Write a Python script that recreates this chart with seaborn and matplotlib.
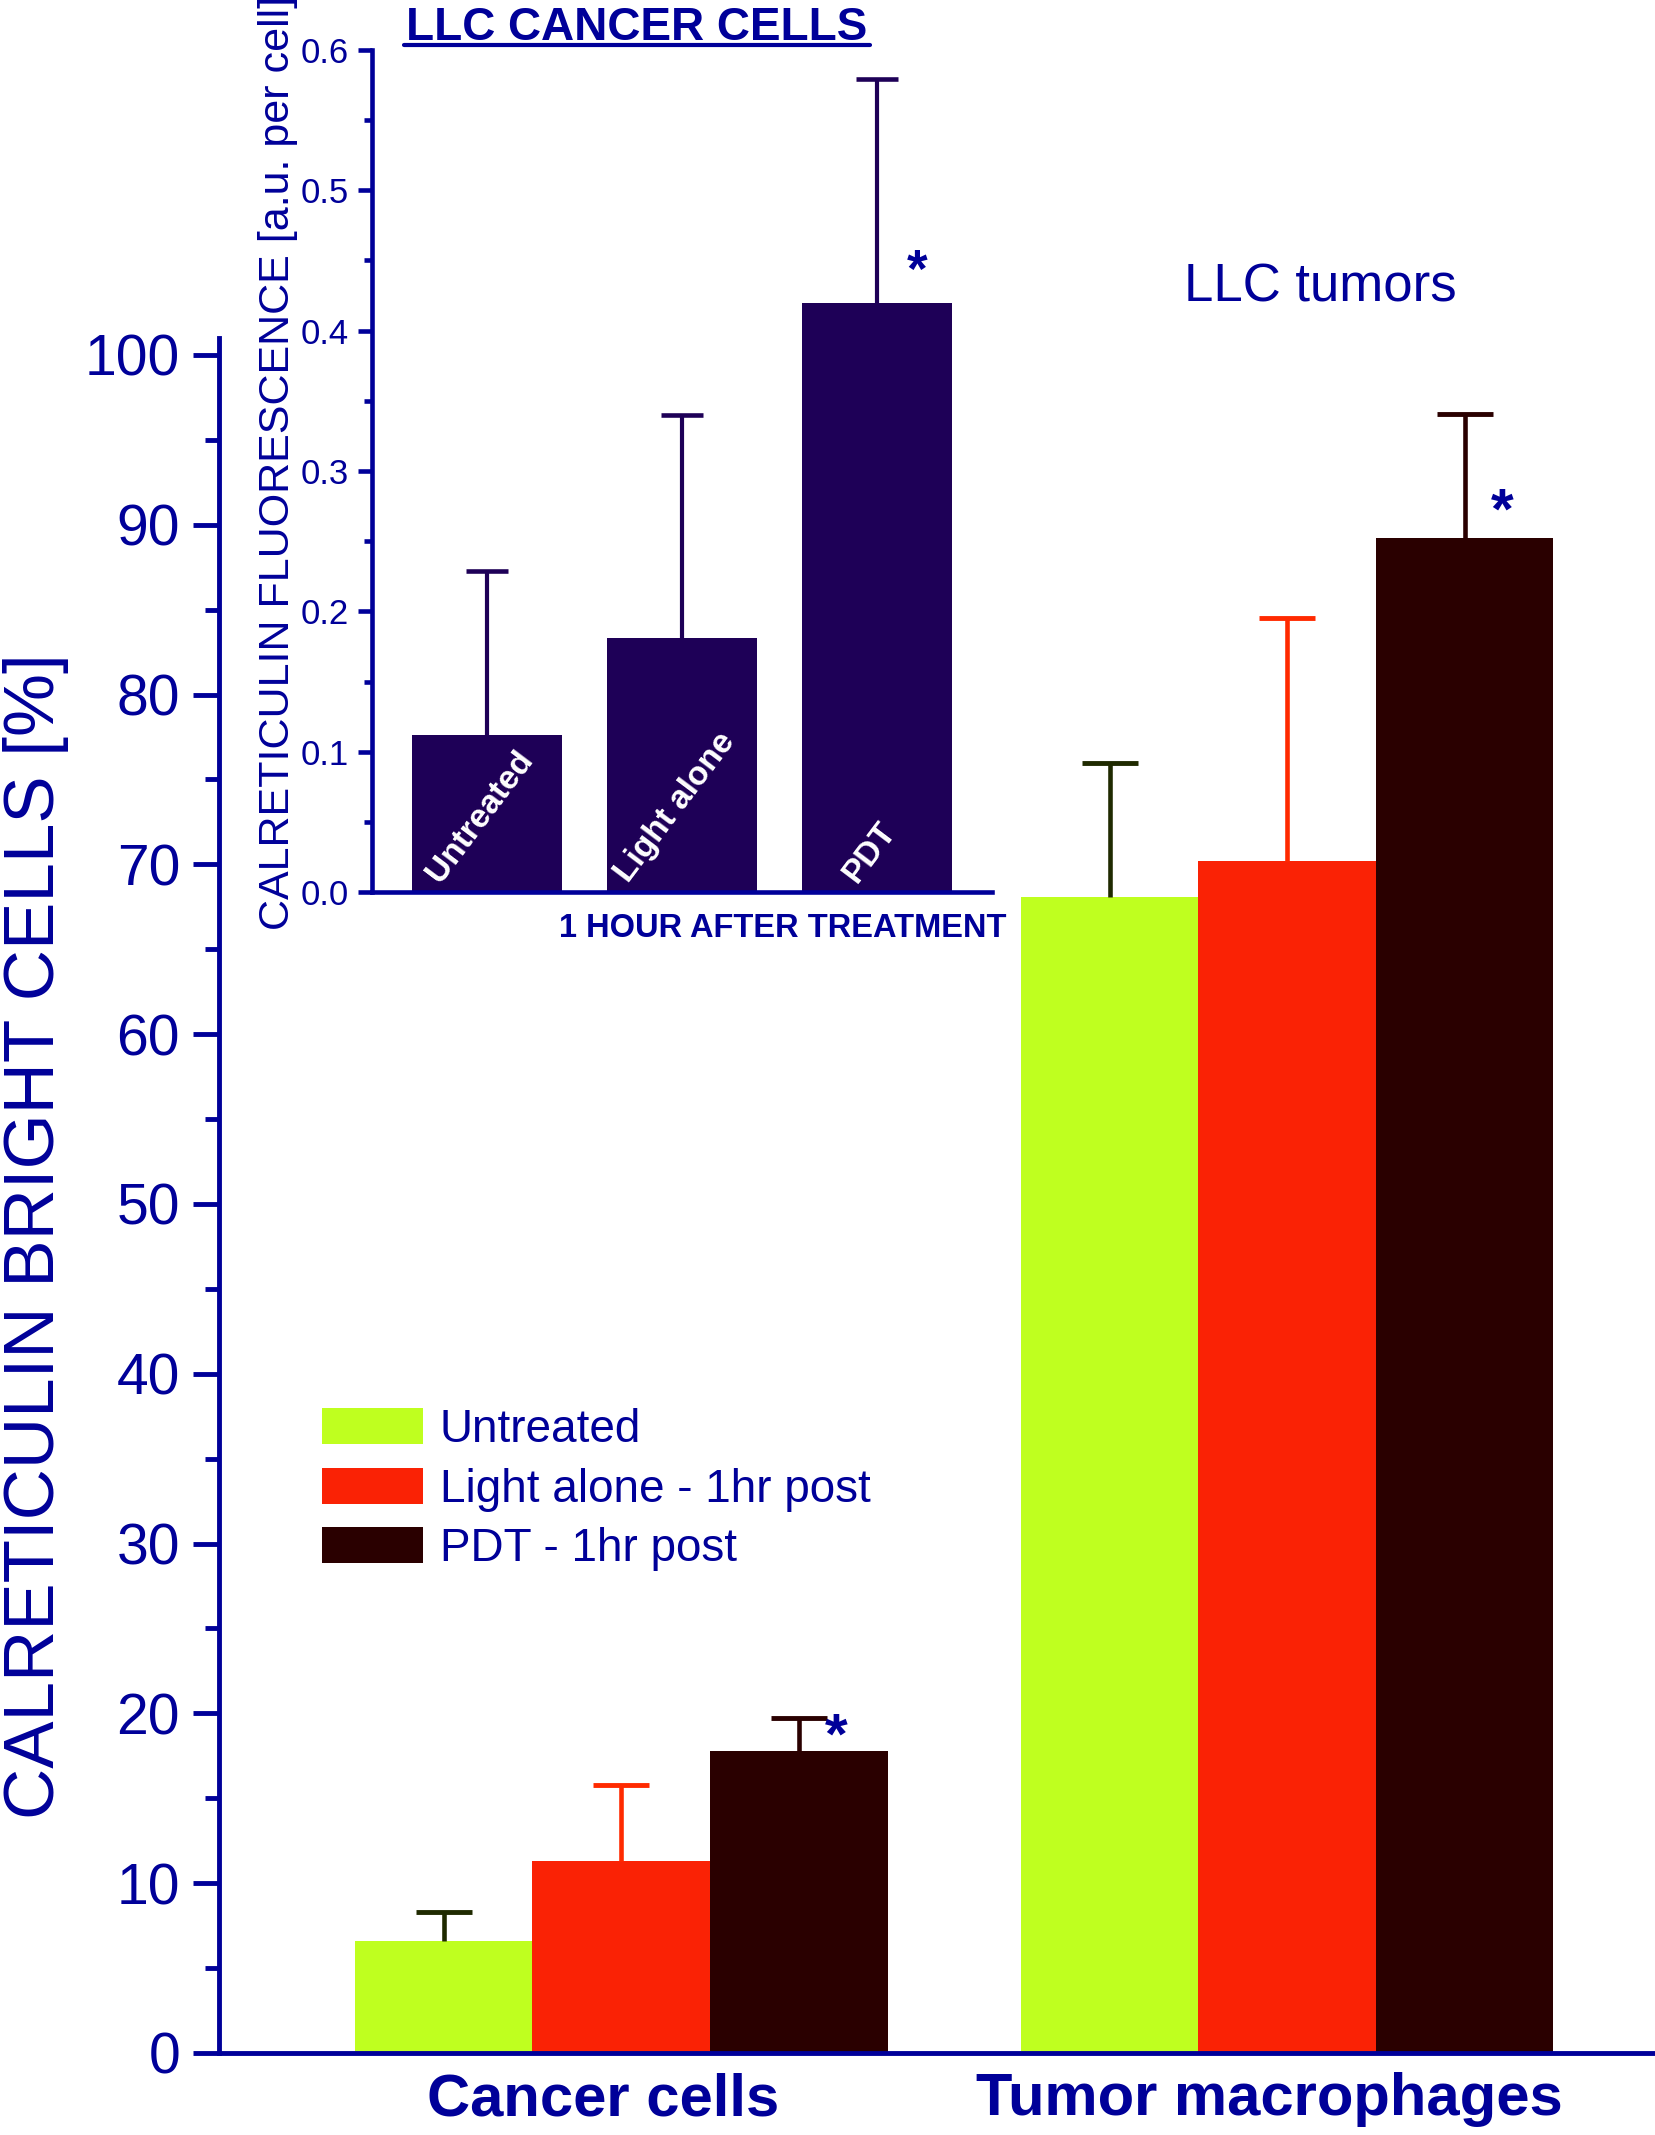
import numpy as np
import pandas as pd
import matplotlib
matplotlib.use('Agg')
import matplotlib.pyplot as plt
from matplotlib.ticker import MultipleLocator, FormatStrFormatter
from matplotlib.transforms import ScaledTranslation
from matplotlib.lines import Line2D
import seaborn as sns

# --- data: main panel (% calreticulin bright cells) ---
cell_groups = ['Cancer cells', 'Tumor macrophages']
treatments = ['Untreated', 'Light alone - 1hr post', 'PDT - 1hr post']
untreated_pct = [6.6, 68.1]
light_pct = [11.3, 70.2]
pdt_pct = [17.8, 89.2]
untreated_err = [1.7, 7.9]
light_err = [4.5, 14.3]
pdt_err = [1.9, 7.3]

# --- data: inset (fluorescence per cell) ---
inset_labels = ['Untreated', 'Light alone', 'PDT']
inset_values = [0.112, 0.181, 0.420]
inset_err = [0.117, 0.159, 0.159]

NAVY = '#000099'
bar_colors = ['#bfff1f', '#fa2205', '#2a0000']
err_colors = ['#1f2a00', '#ff2a00', '#2a0000']
INSET_COLOR = '#1e0057'

sns.set_style('white')
plt.rcParams['font.family'] = ['Liberation Sans', 'DejaVu Sans']

W, H = 1656, 2135
def fx(px):
    return px / W
def fy(py):
    return 1 - py / H

fig = plt.figure(figsize=(W / 100, H / 100), dpi=100)

# ---------- main axes ----------
ax = fig.add_axes([fx(219), fy(2053), 1 - fx(219), (2053 - 338) / H])
df = pd.DataFrame({
    'group': cell_groups * 3,
    'treatment': np.repeat(treatments, len(cell_groups)),
    'value': untreated_pct + light_pct + pdt_pct,
})
sns.barplot(data=df, x='group', y='value', hue='treatment', order=cell_groups,
            hue_order=treatments, palette=bar_colors, saturation=1, width=0.8,
            errorbar=None, linewidth=0, ax=ax)

bar_conts = list(ax.containers)
for cont, err, ecol in zip(bar_conts, [untreated_err, light_err, pdt_err], err_colors):
    xs = np.array([p.get_x() + p.get_width() / 2 for p in cont])
    tops = np.array([p.get_height() for p in cont])
    eb = ax.errorbar(xs, tops, yerr=[np.zeros(len(err)), err], fmt='none',
                     ecolor=ecol, elinewidth=3.3, capsize=20.5, capthick=3.5, zorder=3)
    for cl in eb[1]:
        if np.allclose(cl.get_ydata(), tops):
            cl.set_visible(False)

# significance stars next to PDT bars
for p, dy in zip(bar_conts[2], [9, 17.5]):
    ax.annotate('*', xy=(p.get_x() + p.get_width() / 2, p.get_height()),
                xytext=(27, dy), textcoords='offset points', ha='center', va='center',
                fontsize=42, fontweight='bold', color=NAVY)

ax.set_xlim(-0.604, 1.554)
ax.set_ylim(0, 101)
ax.yaxis.set_major_locator(MultipleLocator(10))
ax.yaxis.set_minor_locator(MultipleLocator(5))
ax.tick_params(axis='y', which='major', length=19, width=3.5, color=NAVY,
               labelsize=41, labelcolor=NAVY, pad=9, left=True)
ax.tick_params(axis='y', which='minor', length=10, width=3.5, color=NAVY, left=True)
ax.tick_params(axis='x', length=0, pad=14, labelsize=43, labelcolor=NAVY)
shift = ScaledTranslation(-0.18, 0, fig.dpi_scale_trans)
for lab in ax.get_xticklabels():
    lab.set_fontweight('bold')
    lab.set_transform(lab.get_transform() + shift)
ax.set_xlabel('')
ax.set_ylabel('')
for s in ['top', 'right']:
    ax.spines[s].set_visible(False)
for s in ['left', 'bottom']:
    ax.spines[s].set_color(NAVY)
    ax.spines[s].set_linewidth(3.5)

handles, labels = ax.get_legend_handles_labels()
ax.legend(handles, labels, loc='upper left', bbox_to_anchor=(fx(322), fy(1408)),
          bbox_transform=fig.transFigure, frameon=False, fontsize=33,
          handlelength=2.2, handleheight=0.83, handletextpad=0.37,
          labelspacing=0.34, borderpad=0, borderaxespad=0, labelcolor=NAVY)

fig.text(fx(54), fy(1236), 'CALRETICULIN BRIGHT CELLS [%]', rotation=90,
         rotation_mode='anchor', ha='center', va='baseline', fontsize=51, color=NAVY)
fig.text(fx(1320), fy(302), 'LLC tumors', ha='center', va='baseline',
         fontsize=38, color=NAVY)

# ---------- inset ----------
axin = fig.add_axes([fx(372), fy(892), (992 - 372) / W, (892 - 50) / H])
axin.patch.set_alpha(0)
sns.barplot(x=inset_labels, y=inset_values, color=INSET_COLOR, saturation=1,
            width=0.77, linewidth=0, ax=axin)
in_bars = axin.containers[0]
xs = np.array([p.get_x() + p.get_width() / 2 for p in in_bars])
tops = np.array([p.get_height() for p in in_bars])
eb = axin.errorbar(xs, tops, yerr=[np.zeros(len(inset_err)), inset_err], fmt='none',
                   ecolor=INSET_COLOR, elinewidth=3, capsize=15, capthick=3.3, zorder=3)
for cl in eb[1]:
    if np.allclose(cl.get_ydata(), tops):
        cl.set_visible(False)

for p, lab in zip(in_bars, inset_labels):
    axin.annotate(lab, xy=(p.get_x() + p.get_width() / 2, 0), xytext=(-5, 3),
                  textcoords='offset points', ha='center', va='bottom', rotation=53,
                  fontsize=24, fontweight='bold', color='white')
p = in_bars[2]
axin.annotate('*', xy=(p.get_x() + p.get_width() / 2, p.get_height()), xytext=(29, 21),
              textcoords='offset points', ha='center', va='center',
              fontsize=38, fontweight='bold', color=NAVY)

axin.set_xlim(-0.59, 2.59)
axin.set_ylim(0, 0.6)
axin.yaxis.set_major_locator(MultipleLocator(0.1))
axin.yaxis.set_minor_locator(MultipleLocator(0.05))
axin.yaxis.set_major_formatter(FormatStrFormatter('%.1f'))
axin.tick_params(axis='y', which='major', length=10, width=3.3, color=NAVY,
                 labelsize=25, labelcolor=NAVY, pad=7, left=True)
axin.tick_params(axis='y', which='minor', length=6, width=3.3, color=NAVY, left=True)
axin.tick_params(axis='x', length=0, labelbottom=False)
axin.set_xlabel('')
axin.set_ylabel('')
for s in ['top', 'right']:
    axin.spines[s].set_visible(False)
for s in ['left', 'bottom']:
    axin.spines[s].set_color(NAVY)
    axin.spines[s].set_linewidth(3.3)

fig.text(fx(289), fy(463), 'CALRETICULIN FLUORESCENCE [a.u. per cell]', rotation=90,
         rotation_mode='anchor', ha='center', va='baseline', fontsize=31, color=NAVY)
fig.text(fx(637), fy(40), 'LLC CANCER CELLS', ha='center', va='baseline',
         fontsize=33, fontweight='bold', color=NAVY)
fig.add_artist(Line2D([fx(404), fx(870)], [fy(45), fy(45)], transform=fig.transFigure,
                      color=NAVY, linewidth=3))
fig.text(fx(783), fy(937), '1 HOUR AFTER TREATMENT', ha='center', va='baseline',
         fontsize=23.5, fontweight='bold', color=NAVY)

fig.savefig('out.png', dpi=100)
plt.close(fig)
